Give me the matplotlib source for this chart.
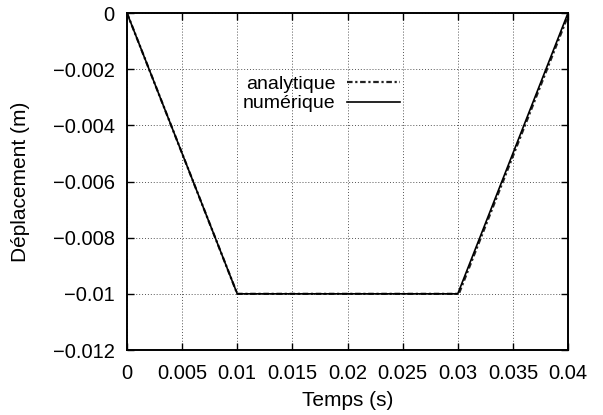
import matplotlib
matplotlib.use("Agg")
import matplotlib.pyplot as plt

t_ana = [0.0, 0.01, 0.0301, 0.0401]
d_ana = [0.0, -0.01, -0.01, 0.0]
t_num = [0.0, 0.01, 0.0300, 0.0400]
d_num = [0.0, -0.01, -0.01, 0.0]
xticks = [0, 0.005, 0.01, 0.015, 0.02, 0.025, 0.03, 0.035, 0.04]
xlabels = ["0", "0.005", "0.01", "0.015", "0.02", "0.025", "0.03", "0.035", "0.04"]
yticks = [0, -0.002, -0.004, -0.006, -0.008, -0.01, -0.012]
ylabels = ["0", "\u22120.002", "\u22120.004", "\u22120.006", "\u22120.008", "\u22120.01", "\u22120.012"]

plt.rcParams['font.family'] = ['Liberation Sans', 'DejaVu Sans']
fig = plt.figure(figsize=(6.03, 4.15), dpi=100)
ax = fig.add_axes([127/603, 1-350/415, 441/603, 337/415])

ax.plot(t_ana, d_ana, color='#222222', lw=1.6, linestyle=(0, (2.5, 1.2, 1, 1.2)),
        label='analytique', clip_on=True)
ax.plot(t_num, d_num, color='black', lw=1.2, label='numérique')

ax.set_xlim(0, 0.04)
ax.set_ylim(-0.012, 0)
ax.set_xticks(xticks)
ax.set_xticklabels(xlabels)
ax.set_yticks(yticks)
ax.set_yticklabels(ylabels)
ax.tick_params(direction='in', top=True, right=True, labelsize=14.5, length=5, width=1.0)
ax.tick_params(axis='y', pad=9)
ax.tick_params(axis='x', pad=10)
ax.grid(True, linestyle=(0, (1, 2)), color='#555555', lw=0.7)
for s in ax.spines.values():
    s.set_linewidth(1.4)
ax.set_xlabel('Temps (s)', fontsize=15, labelpad=6)
ax.set_ylabel('Déplacement (m)', fontsize=15, labelpad=16)

leg = ax.legend(loc='upper right', bbox_to_anchor=(0.619, 0.814), frameon=False,
                markerfirst=False, fontsize=14, handlelength=2.7,
                labelspacing=0.08, handletextpad=0.62, borderpad=0.0,
                borderaxespad=0.0)
for txt in leg.get_texts():
    txt.set_ha('right')

fig.savefig('out.png', dpi=100)
